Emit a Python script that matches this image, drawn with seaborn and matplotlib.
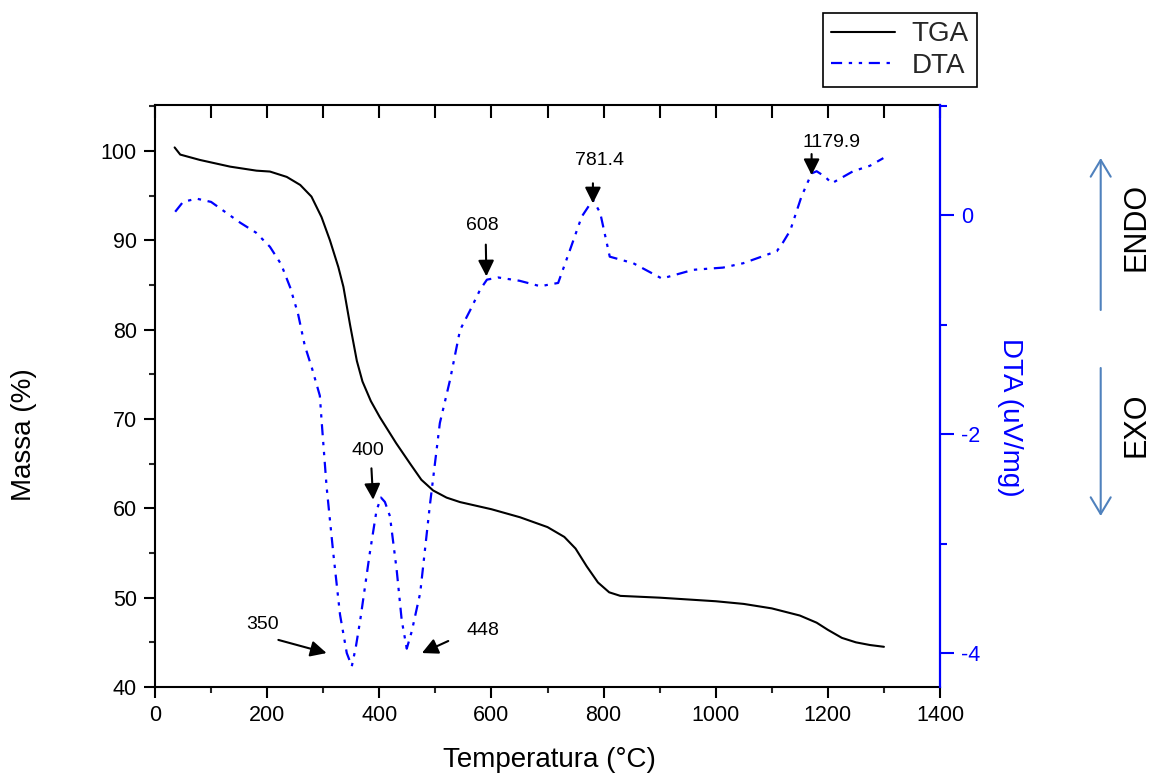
import numpy as np
import pandas as pd
import matplotlib
matplotlib.use("Agg")
import matplotlib.pyplot as plt
import seaborn as sns
from matplotlib.patches import FancyArrowPatch
from matplotlib.lines import Line2D
from matplotlib.ticker import MultipleLocator

# ---------------- data ----------------
tga_temp = [35, 45, 80, 134, 181, 205, 235, 259, 279, 297, 312, 327, 336, 348, 360,
            370, 385, 401, 430, 455, 475, 496, 520, 544, 600, 651, 700, 730, 750,
            770, 790, 810, 830, 900, 1000, 1050, 1100, 1150, 1180, 1200, 1225,
            1250, 1275, 1300]
tga_mass = [100.4, 99.6, 99.0, 98.25, 97.8, 97.7, 97.1, 96.2, 94.9, 92.6, 90.0, 87.0,
            84.8, 80.5, 76.5, 74.2, 72.0, 70.2, 67.3, 65.0, 63.2, 62.0, 61.2, 60.7,
            59.9, 59.0, 57.9, 56.8, 55.5, 53.5, 51.7, 50.6, 50.2, 50.0, 49.6, 49.3,
            48.8, 48.0, 47.2, 46.4, 45.5, 45.0, 44.7, 44.5]

dta_temp = [36, 50, 74, 100, 152, 180, 205, 225, 241, 255, 267, 280, 294, 297, 306,
            318, 330, 342, 351, 358, 366, 383, 395, 403, 410, 419, 431, 440, 449,
            458, 473, 490, 508, 526, 544, 562, 580, 592, 612, 650, 687, 719, 740,
            761, 781, 794, 811, 853, 904, 960, 1013, 1049, 1109, 1120, 1133, 1153,
            1171, 1180, 1195, 1207, 1245, 1275, 1299]
dta_signal = [0.03, 0.12, 0.15, 0.12, -0.07, -0.16, -0.29, -0.45, -0.66, -0.90, -1.19,
              -1.40, -1.65, -1.87, -2.48, -3.09, -3.65, -4.00, -4.12, -3.95, -3.70,
              -3.09, -2.70, -2.58, -2.62, -2.75, -3.24, -3.70, -3.96, -3.80, -3.45,
              -2.66, -1.90, -1.51, -1.05, -0.87, -0.68, -0.59, -0.57, -0.60, -0.65,
              -0.62, -0.32, -0.015, 0.14, 0.02, -0.38, -0.44, -0.58, -0.50, -0.48,
              -0.44, -0.33, -0.25, -0.14, 0.17, 0.38, 0.40, 0.35, 0.29, 0.40, 0.45,
              0.52]

peak_labels = ["350", "400", "448", "608", "781.4", "1179.9"]

x_ticks = [0, 200, 400, 600, 800, 1000, 1200, 1400]
mass_ticks = [40, 50, 60, 70, 80, 90, 100]
dta_ticks = [-4, -2, 0]

# ---------------- layout / style ----------------
# (text x, text y, tail x, tail y, tip x, tip y) in temperature / DTA units
label_pos = [
    (192, -3.735, 220, -3.88, 306, -4.00),
    (380, -2.146, 386, -2.313, 389, -2.60),
    (585, -3.79, 523, -3.89, 476, -4.00),
    (583, -0.10, 590, -0.27, 591, -0.56),
    (792, 0.50, 781, 0.29, 781, 0.107),
    (1206, 0.658, 1171, 0.557, 1171, 0.365),
]

sns.set_theme(style="ticks")
plt.rcParams["font.family"] = ["Liberation Sans", "DejaVu Sans"]
plt.rcParams["axes.linewidth"] = 1.5
plt.rcParams["axes.unicode_minus"] = False

fig = plt.figure(figsize=(11.5, 7.76), dpi=100)
ax = fig.add_axes([155 / 1150, 1 - 687 / 776, 785 / 1150, 582 / 776])
ax2 = ax.twinx()

tga_df = pd.DataFrame({"Temperatura": tga_temp, "Massa": tga_mass})
dta_df = pd.DataFrame({"Temperatura": dta_temp, "DTA": dta_signal})

sns.lineplot(data=tga_df, x="Temperatura", y="Massa", ax=ax, color="black",
             linewidth=1.5, sort=False, estimator=None, legend=False)
sns.lineplot(data=dta_df, x="Temperatura", y="DTA", ax=ax2, color="#0000ff",
             linewidth=1.6, sort=False, estimator=None, legend=False)
dta_dash = [5, 3, 1.5, 3, 1.5, 3]
ax2.lines[-1].set_dashes(dta_dash)

# axes limits & ticks
ax.set_xlim(0, 1400)
ax.set_ylim(40, 105.15)
ax2.set_ylim(-4.31, 1.005)
ax.set_xticks(x_ticks)
ax.set_yticks(mass_ticks)
ax.xaxis.set_minor_locator(MultipleLocator(100))
ax.yaxis.set_minor_locator(MultipleLocator(5))
ax2.set_yticks(dta_ticks)
ax2.yaxis.set_minor_locator(MultipleLocator(1))

ax.tick_params(axis="both", which="major", direction="out", length=8, width=1.5,
               labelsize=15.5, pad=5, color="black", labelcolor="black")
ax.tick_params(axis="both", which="minor", direction="out", length=4, width=1.5)
ax.tick_params(top=False, right=False, which="both")
ax2.tick_params(axis="y", which="major", direction="out", length=10, width=1.5,
                labelsize=15.5, pad=5, color="#0000ff", labelcolor="#0000ff")
ax2.tick_params(axis="y", which="minor", direction="out", length=5, width=1.5,
                color="#0000ff")

# inward ticks along the top edge via the twin's (shared) x axis
ax2.xaxis.set_visible(True)
ax2.tick_params(axis="x", which="both", bottom=False, top=True, labelbottom=False,
                labeltop=False, direction="in", length=9, width=1.5, color="black")

for s in ["left", "bottom", "top"]:
    ax.spines[s].set_color("black")
    ax.spines[s].set_linewidth(1.5)
ax.spines["right"].set_visible(False)
for s in ["left", "bottom", "top"]:
    ax2.spines[s].set_visible(False)
ax2.spines["right"].set_color("#0000ff")
ax2.spines["right"].set_linewidth(1.6)

ax.grid(False)
ax2.grid(False)

# labels
ax.set_xlabel("Temperatura (°C)", fontsize=20, color="black")
ax.xaxis.set_label_coords(0.503, -0.125)
ax.xaxis.label.set_va("center")
ax.set_ylabel("Massa (%)", fontsize=20, color="black")
ax.yaxis.set_label_coords(-0.167, 0.433)
ax.yaxis.label.set_va("center")
ax2.set_xlabel("")
ax2.set_ylabel("DTA (uV/mg)", fontsize=20, color="#0000ff", rotation=270)
ax2.yaxis.set_label_coords(1.089, 0.464)
ax2.yaxis.label.set_va("center")
ax2.yaxis.label.set_ha("center")

# peak annotations
for lab, (tx, ty, ax0, ay0, ax1_, ay1) in zip(peak_labels, label_pos):
    ax2.annotate("", xy=(ax1_, ay1), xytext=(ax0, ay0),
                 arrowprops=dict(arrowstyle="-|>", mutation_scale=24, color="black",
                                 lw=1.5, shrinkA=0, shrinkB=0))
    ax2.text(tx, ty, lab, fontsize=14, ha="center", va="center", color="black")

# legend
handles = [Line2D([], [], color="black", lw=1.5),
           Line2D([], [], color="#0000ff", lw=1.6, dashes=dta_dash)]
leg = fig.legend(handles, ["TGA", "DTA"], loc="upper right",
                 bbox_to_anchor=(977 / 1150, 1 - 13 / 776), frameon=True,
                 fancybox=False, edgecolor="black", framealpha=1, fontsize=20,
                 handlelength=2.3, borderpad=0.3, labelspacing=0.2,
                 handletextpad=0.6, borderaxespad=0)
leg.get_frame().set_linewidth(1.2)

# ENDO / EXO arrows
arrow_col = "#4f81bd"
for (y0, y1) in [(1 - 310 / 776, 1 - 158 / 776), (1 - 368 / 776, 1 - 516 / 776)]:
    fig.add_artist(FancyArrowPatch((1100.7 / 1150, y0), (1100.7 / 1150, y1),
                                   transform=fig.transFigure,
                                   arrowstyle="->,head_length=0.6,head_width=0.36",
                                   mutation_scale=20, color=arrow_col, lw=1.5,
                                   shrinkA=0, shrinkB=0))
fig.text(1136.7 / 1150, 1 - 227 / 776, "ENDO", rotation=90, fontsize=22,
         ha="center", va="center", color="black")
fig.text(1136.7 / 1150, 1 - 425 / 776, "EXO", rotation=90, fontsize=22,
         ha="center", va="center", color="black")

fig.savefig("out.png", dpi=100)
